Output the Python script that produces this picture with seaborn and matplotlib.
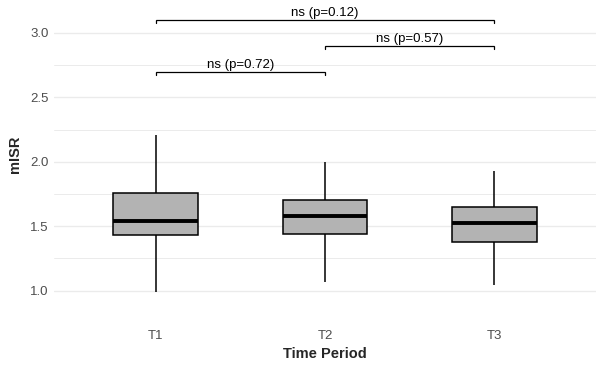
import pandas as pd
import seaborn as sns
import matplotlib.pyplot as plt
from matplotlib.ticker import MultipleLocator

# five-number summaries (min, q1, median, q3, max)
periods = ['T1', 'T2', 'T3']
t1_vals = [0.99, 1.43, 1.54, 1.76, 2.21]
t2_vals = [1.07, 1.44, 1.58, 1.70, 2.00]
t3_vals = [1.04, 1.38, 1.525, 1.65, 1.93]

# pairwise comparisons: (group a, group b, bracket height, label)
comp_pairs = [('T1', 'T2'), ('T2', 'T3'), ('T1', 'T3')]
comp_heights = [2.70, 2.90, 3.10]
comp_labels = ['ns (p=0.72)', 'ns (p=0.57)', 'ns (p=0.12)']

df = pd.DataFrame({
    'period': ['T1'] * len(t1_vals) + ['T2'] * len(t2_vals) + ['T3'] * len(t3_vals),
    'mISR': t1_vals + t2_vals + t3_vals,
})

sns.set_style('white')
plt.rcParams['font.family'] = ['Liberation Sans', 'DejaVu Sans']

fig = plt.figure(figsize=(6.03, 3.67), dpi=100)
ax = fig.add_axes([54 / 603, 1 - 306 / 367, 542 / 603, 304 / 367])

sns.boxplot(data=df, x='period', y='mISR', order=periods, whis=(0, 100),
            width=0.5, color='#B3B3B3', saturation=1, linewidth=1.1,
            linecolor='black', medianprops={'linewidth': 2.8, 'color': 'black'},
            capprops={'linewidth': 0}, showfliers=False, ax=ax)

# significance brackets
for (a, b), h, lab in zip(comp_pairs, comp_heights, comp_labels):
    xa, xb = periods.index(a), periods.index(b)
    ax.plot([xa, xa, xb, xb], [h - 0.025, h, h, h - 0.025], color='black', lw=0.9,
            solid_joinstyle='miter')
    ax.text((xa + xb) / 2, h + 0.005, lab, ha='center', va='bottom', fontsize=9.5,
            color='black')

ax.set_xlim(-0.6, 2.6)
ax.set_ylim(0.88, 3.24)
ax.yaxis.set_major_locator(MultipleLocator(0.5))
ax.yaxis.set_minor_locator(MultipleLocator(0.25))
ax.grid(axis='y', which='major', color='#EBEBEB', lw=1.0)
ax.grid(axis='y', which='minor', color='#EBEBEB', lw=0.7)
ax.set_axisbelow(True)
for s in ax.spines.values():
    s.set_visible(False)
ax.tick_params(axis='both', length=0, labelsize=9.5, labelcolor='#4D4D4D')
ax.tick_params(axis='x', pad=17)
ax.tick_params(axis='y', pad=4)
ax.set_xlabel('Time Period', fontsize=10.5, fontweight='bold', labelpad=4)
ax.set_ylabel('mISR', fontsize=10.5, fontweight='bold', labelpad=6)

fig.savefig('out.png', dpi=100)
